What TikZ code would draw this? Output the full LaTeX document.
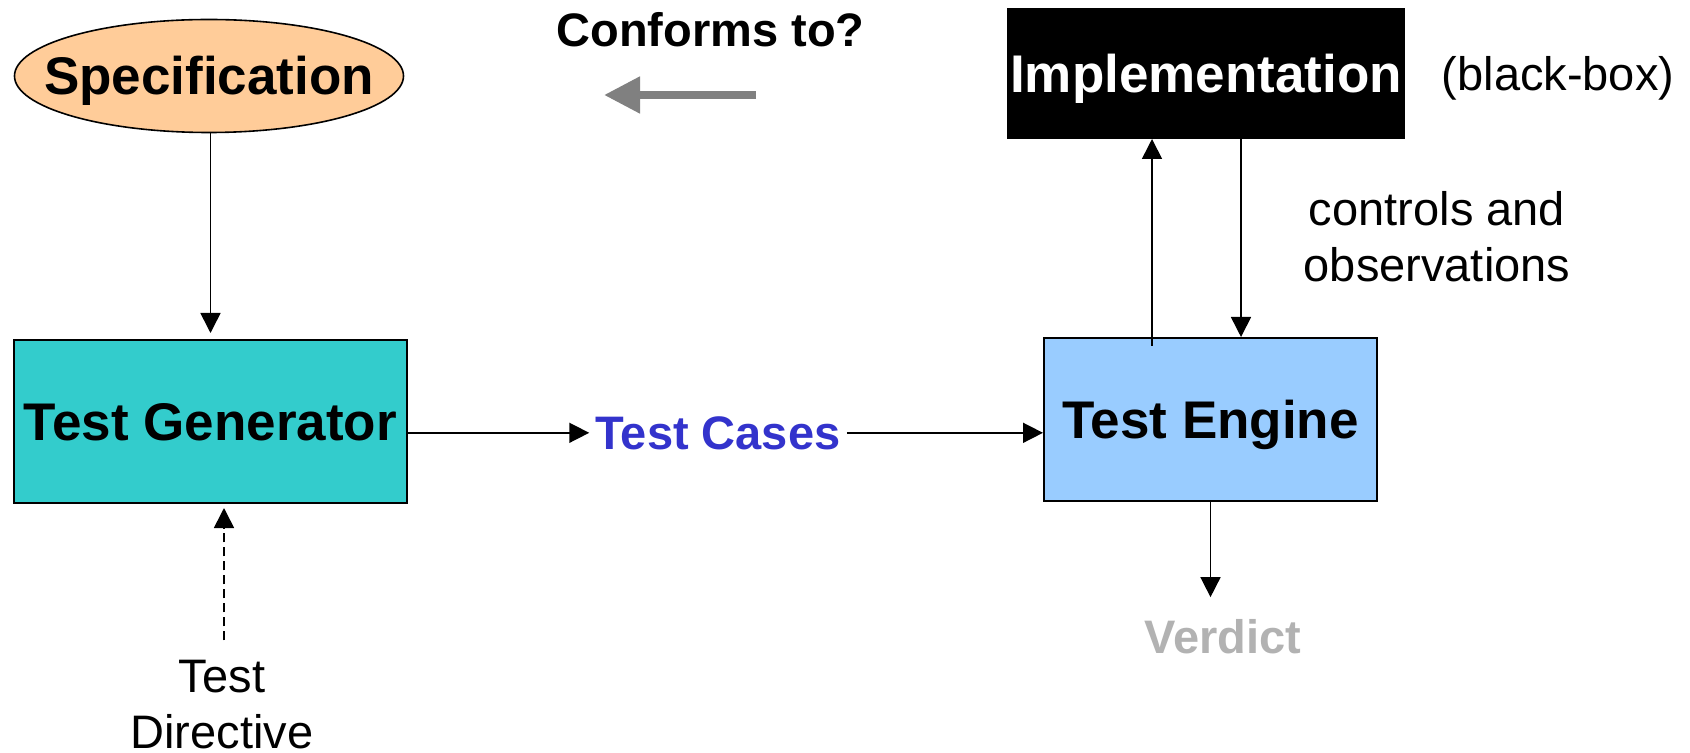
\documentclass[tikz,border=0pt]{standalone}
\usepackage{fontspec}
\setmainfont{Liberation Sans}
\usetikzlibrary{arrows.meta,shapes.geometric,calc}
\definecolor{specfill}{HTML}{FFCC99}
\definecolor{genfill}{HTML}{33CCCC}
\definecolor{engfill}{HTML}{99CCFF}
\definecolor{caseblue}{HTML}{3333CC}
\definecolor{flowgray}{HTML}{808080}
\definecolor{verdictgray}{HTML}{B2B2B2}
\begin{document}
\begin{tikzpicture}[x=0.5pt,y=-0.5pt,
  titlefont/.style={font=\fontsize{26.5}{32}\selectfont\bfseries},
  labelbold/.style={font=\fontsize{23.5}{28}\selectfont\bfseries, inner sep=3pt},
  labelplain/.style={font=\fontsize{23.5}{28}\selectfont, align=center, inner sep=3pt},
  boxed/.style={draw=black, line width=1pt, inner sep=0pt, titlefont,
                text height=19pt, text depth=0pt},
  conn/.style={line width=0.8pt, -{Triangle[length=10pt,width=10pt]}},
]
% canvas
\fill[white] (0,0) rectangle (1690,753);
\useasboundingbox (0,0) rectangle (1690,753);

% main blocks
\node[ellipse, draw=black, line width=0.8pt, fill=specfill, inner sep=0pt,
      minimum width=194.5pt, minimum height=56.5pt] (spec) at (209,76) {};
\node[titlefont, inner sep=0pt, text height=19pt, text depth=0pt] (spectext)
      at (spec.center) {Specification};
\node[boxed, fill=black, text=white, minimum width=198pt, minimum height=64.5pt]
      (impl) at (1206,73.5) {Implementation};
\node[boxed, fill=genfill, minimum width=196.5pt, minimum height=81.5pt]
      (gen) at (210.5,421.5) {Test Generator};
\node[boxed, fill=engfill, minimum width=166.5pt, minimum height=81.5pt]
      (engine) at (1210.5,419.5) {Test Engine};

% labels (two-line labels are placed by the baseline of their last line)
\node[labelbold, anchor=base] (conf) at (710.5,47) {Conforms to?};
\node[labelplain, anchor=base] (bb) at (1558,91) {(black-box)};
\node[labelplain, anchor=base] (ctl) at (1437,282) {controls and\\observations};
\node[labelbold, text=caseblue, anchor=base] (tc) at (718,449) {Test Cases};
\node[labelbold, text=verdictgray, anchor=base] (verdict) at (1223,653) {Verdict};
\node[labelplain, anchor=base] (dir) at (222,748) {Test\\Directive};

% "conforms to" arrow
\coordinate (gaS) at (756,95);
\coordinate (gaE) at (604,95);
\draw[flowgray, line width=4pt, -{Triangle[length=18pt,width=17.5pt]}] (gaS) -- (gaE);

% connectors
\draw[conn] (spec.south -| gen.north) -- ([yshift=3pt]gen.north);
\draw[conn] (gen.east |- tc.west) -- (tc.west);
\draw[conn] (tc.east) -- (tc.east -| engine.west);
\draw[conn, shorten >=7.7pt] (engine.south) -- (engine.south |- verdict.north);

\coordinate (upx) at ($(impl.south)+(-54,0)$);
\coordinate (dnx) at ($(impl.south)+(35,0)$);
\draw[conn] ($(upx |- engine.north)+(0,9)$) -- (upx);
\draw[conn] (dnx) -- (dnx |- engine.north);

\draw[conn, dash pattern=on 4.5pt off 2.5pt]
      ($(dir.north)+(2,-13)$) -- ($(gen.south -| dir.north)+(2,4)$);
\end{tikzpicture}
\end{document}
